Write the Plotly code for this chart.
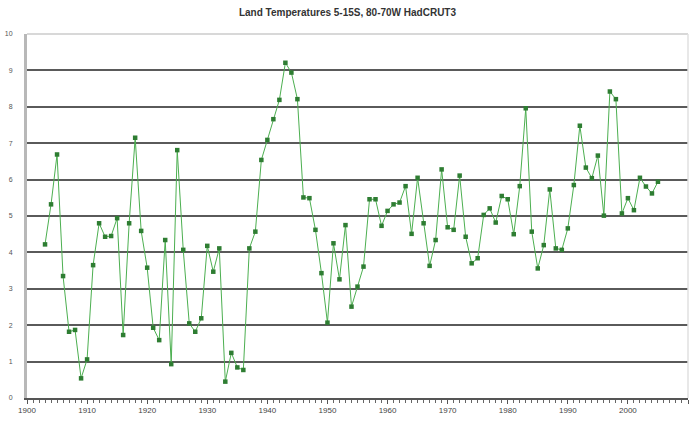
import plotly.graph_objects as go

years = list(range(1903, 2006))
temps = [
    4.22, 5.32, 6.69, 3.35, 1.82, 1.87, 0.54, 1.06, 3.65, 4.80,
    4.43, 4.45, 4.94, 1.73, 4.80, 7.15, 4.59, 3.58, 1.93, 1.59,
    4.34, 0.93, 6.81, 4.07, 2.05, 1.82, 2.19, 4.18, 3.47, 4.11,
    0.45, 1.24, 0.84, 0.77, 4.11, 4.57, 6.54, 7.09, 7.66, 8.19,
    9.21, 8.94, 8.21, 5.51, 5.49, 4.62, 3.43, 2.07, 4.25, 3.26,
    4.75, 2.51, 3.06, 3.61, 5.46, 5.46, 4.73, 5.14, 5.32, 5.37,
    5.82, 4.51, 6.05, 4.80, 3.63, 4.34, 6.28, 4.69, 4.62, 6.11,
    4.43, 3.70, 3.84, 5.03, 5.21, 4.82, 5.55, 5.46, 4.50, 5.82,
    7.96, 4.57, 3.56, 4.20, 5.73, 4.11, 4.07, 4.66, 5.85, 7.48,
    6.33, 6.04, 6.66, 5.01, 8.42, 8.21, 5.07, 5.49, 5.16, 6.05,
    5.81, 5.62, 5.94,
]
x_ticks = list(range(1900, 2011, 10))
y_ticks = list(range(0, 11))
title_text = "<b>Land Temperatures 5-15S, 80-70W HadCRUT3</b>"

fig = go.Figure()
fig.add_trace(go.Scatter(
    x=years, y=temps, mode="lines+markers",
    line=dict(color="#4caf50", width=1),
    marker=dict(symbol="square", size=4.5, color="#2e7d32"),
    showlegend=False,
))

fig.update_layout(
    width=695, height=421,
    margin=dict(l=27, r=7, t=34, b=23),
    paper_bgcolor="white", plot_bgcolor="white",
    title=dict(text=title_text, x=0.5, xanchor="center", y=0.97, yanchor="middle",
               font=dict(family="Arial, Liberation Sans, sans-serif", size=10, color="#333")),
    font=dict(family="Arial, Liberation Sans, sans-serif", size=7, color="#555"),
    xaxis=dict(range=[1900, 2010], tickvals=x_ticks, ticktext=[str(t) for t in x_ticks],
               automargin=False,
               showgrid=False, zeroline=False, showline=True, linecolor="#555", linewidth=1.5,
               ticks="outside", ticklen=4, tickcolor="#555",
               tickfont=dict(size=8, color="#444"),
               minor=dict(dtick=1, ticks="outside", ticklen=3, tickcolor="#666", showgrid=False)),
    yaxis=dict(range=[0, 10], tickvals=y_ticks, ticktext=[str(t) for t in y_ticks],
               automargin=False,
               showgrid=True, gridcolor="#5a5a5a", gridwidth=1.5, zeroline=False,
               showline=True, linecolor="#b8b8b8", linewidth=3, ticks="",
               ticklabelstandoff=10,
               tickfont=dict(size=7, color="#555")),
    shapes=[
        dict(type="line", xref="paper", yref="paper", x0=0, x1=1, y0=1, y1=1,
             line=dict(color="#d8d8d8", width=2), layer="above"),
        dict(type="line", xref="paper", yref="paper", x0=1, x1=1, y0=0, y1=1,
             line=dict(color="#e0e0e0", width=1.5), layer="above"),
    ],
)

fig.write_html("out.html", config={"displayModeBar": False},
               post_script="document.body.style.margin='0';")
